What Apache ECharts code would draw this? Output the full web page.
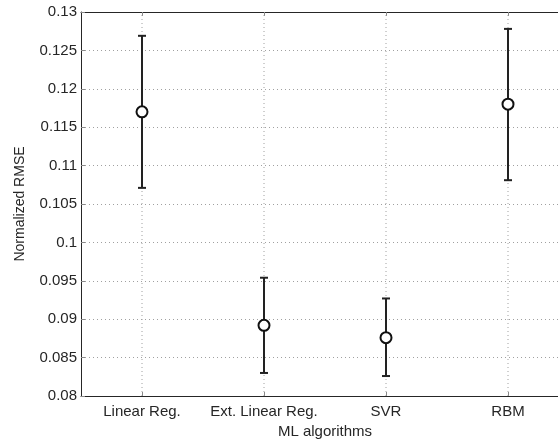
<!DOCTYPE html>
<html>
<head>
<meta charset="utf-8">
<script src="https://cdn.jsdelivr.net/npm/echarts@6/dist/echarts.min.js"></script>
<style>
  html, body { margin: 0; padding: 0; background: #fff; }
  #chart { width: 558px; height: 439px; }
</style>
</head>
<body>
<div id="chart"></div>
<script>
// Normalized RMSE per algorithm: mean with lower/upper error bounds
const categories = ['Linear Reg.', 'Ext. Linear Reg.', 'SVR', 'RBM'];
const positions  = [1, 2, 3, 4];
const meanRmse  = [0.1170, 0.0892, 0.0876, 0.1180];
const lowerRmse = [0.1071, 0.0830, 0.0826, 0.1081];
const upperRmse = [0.1269, 0.0954, 0.0927, 0.1278];
const yTicks = { min: 0.08, max: 0.13, step: 0.005 };
const xRange = { min: 0.5, max: 4.5 };

const ink = '#262626';
const font = 'Liberation Sans, Arial, Helvetica, sans-serif';
const gridLine = { color: '#a0a0a0', width: 1, type: [1, 3] };

const chart = echarts.init(document.getElementById('chart'), null, { renderer: 'canvas' });

const labelFor = v => categories[positions.indexOf(Math.round(v))] || '';

chart.setOption({
  animation: false,
  // the axes box runs past the right edge of the page
  grid: { left: 81, top: 12, width: 488, height: 384, show: false, outerBoundsMode: 'none', containLabel: false },
  xAxis: [{
    type: 'value',
    min: xRange.min,
    max: xRange.max,
    position: 'bottom',
    name: 'ML algorithms',
    nameLocation: 'middle',
    nameGap: 26,
    nameTextStyle: { fontFamily: font, fontSize: 15, color: ink },
    axisLine: { show: true, lineStyle: { color: ink, width: 1 } },
    axisTick: { show: true, customValues: positions, inside: true, length: 4, lineStyle: { color: '#888' } },
    axisLabel: { customValues: positions, fontFamily: font, fontSize: 15, color: ink, margin: 8, formatter: labelFor },
    splitLine: { show: false }
  }, {
    type: 'value',
    min: xRange.min,
    max: xRange.max,
    position: 'top',
    axisLine: { show: true, lineStyle: { color: ink, width: 1 } },
    axisTick: { show: true, customValues: positions, inside: true, length: 4, lineStyle: { color: '#888' } },
    axisLabel: { show: false },
    splitLine: { show: false }
  }],
  yAxis: {
    type: 'value',
    min: yTicks.min,
    max: yTicks.max,
    interval: yTicks.step,
    name: 'Normalized RMSE',
    nameLocation: 'middle',
    nameGap: 54,
    nameTextStyle: { fontFamily: font, fontSize: 14, color: ink },
    axisLine: { show: true, lineStyle: { color: ink, width: 1 } },
    axisTick: { show: true, inside: true, length: 4, lineStyle: { color: '#888' } },
    axisLabel: {
      fontFamily: font, fontSize: 15, color: ink, margin: 4,
      formatter: v => String(+v.toFixed(3))
    },
    splitLine: { show: true, lineStyle: gridLine }
  },
  series: [{
    type: 'custom',
    xAxisIndex: 0,
    data: positions.map((p, i) => [p, lowerRmse[i], upperRmse[i]]),
    z: 3,
    renderItem: (params, api) => {
      const x = api.value(0);
      const lo = api.coord([x, api.value(1)]);
      const hi = api.coord([x, api.value(2)]);
      const bottom = api.coord([x, yTicks.min]);
      const top = api.coord([x, yTicks.max]);
      const cap = 4;
      const style = { stroke: '#222', lineWidth: 2 };
      return {
        type: 'group',
        children: [
          // dotted vertical grid line through the algorithm
          { type: 'line', shape: { x1: bottom[0], y1: bottom[1], x2: top[0], y2: top[1] },
            style: { stroke: gridLine.color, lineWidth: 1, lineDash: gridLine.type }, z2: 0 },
          { type: 'line', shape: { x1: lo[0], y1: lo[1], x2: hi[0], y2: hi[1] }, style, z2: 1 },
          { type: 'line', shape: { x1: lo[0] - cap, y1: lo[1], x2: lo[0] + cap, y2: lo[1] }, style, z2: 1 },
          { type: 'line', shape: { x1: hi[0] - cap, y1: hi[1], x2: hi[0] + cap, y2: hi[1] }, style, z2: 1 }
        ]
      };
    }
  }, {
    type: 'scatter',
    xAxisIndex: 0,
    data: positions.map((p, i) => [p, meanRmse[i]]),
    symbol: 'circle',
    symbolSize: 11,
    z: 5,
    itemStyle: { color: '#fff', borderColor: '#111', borderWidth: 2, opacity: 1 }
  }]
});
</script>
</body>
</html>
